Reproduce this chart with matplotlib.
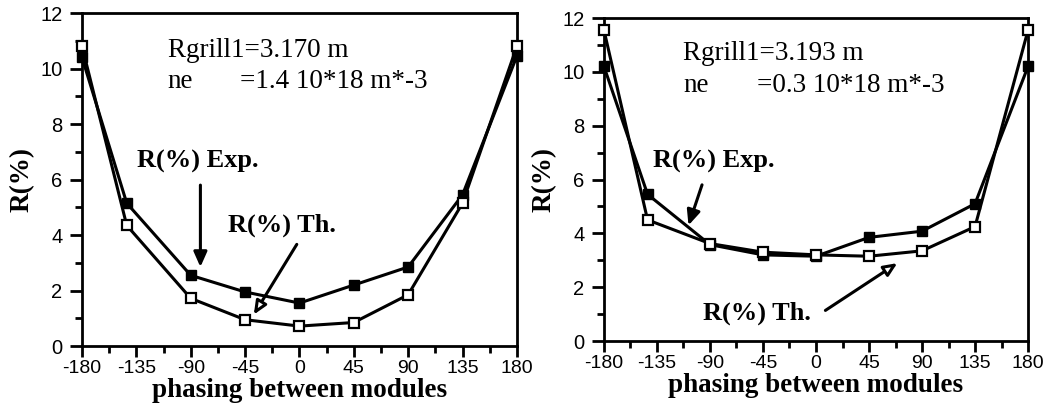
import numpy as np
import matplotlib
matplotlib.use('Agg')
from matplotlib import pyplot as plt
from matplotlib.ticker import MultipleLocator

# phasing between modules (deg); the second point sits slightly left of -135 in the scan
phasing = [-180, -143, -90, -45, 0, 45, 90, 135, 180]

# left panel: Rgrill1 = 3.170 m, ne = 1.4e18
exp_left = [10.4, 5.15, 2.55, 1.95, 1.55, 2.2, 2.85, 5.45, 10.45]
th_left = [10.8, 4.35, 1.72, 0.95, 0.72, 0.85, 1.85, 5.15, 10.8]

# right panel: Rgrill1 = 3.193 m, ne = 0.3e18
exp_right = [10.2, 5.45, 3.58, 3.2, 3.15, 3.85, 4.08, 5.1, 10.2]
th_right = [11.55, 4.5, 3.62, 3.3, 3.2, 3.15, 3.35, 4.25, 11.55]

xticks = [-180, -135, -90, -45, 0, 45, 90, 135, 180]
xtick_labels = ['-180', '-135', '-90', '-45', '0', '45', '90', '135', '180']
yticks = [0, 2, 4, 6, 8, 10, 12]

serif = 'Liberation Serif'
sans = 'Liberation Sans'


def setup_axes(ax):
    ax.set_xlim(-180, 180)
    ax.set_ylim(0, 12)
    ax.set_xticks(xticks)
    ax.set_xticklabels(xtick_labels, family=sans, fontsize=14)
    ax.set_yticks(yticks)
    ax.set_yticklabels([str(v) for v in yticks], family=sans, fontsize=14.5)
    ax.xaxis.set_minor_locator(MultipleLocator(22.5))
    ax.yaxis.set_minor_locator(MultipleLocator(1))
    ax.tick_params(which='major', direction='out', length=8, width=2, pad=2)
    ax.tick_params(axis='y', which='major', length=9, pad=5)
    ax.tick_params(which='minor', direction='out', length=5, width=2)
    for sp in ax.spines.values():
        sp.set_linewidth(2)
    ax.set_xlabel('phasing between modules', family=serif, fontweight='bold',
                  fontsize=19.5, labelpad=0.5)
    ax.set_ylabel('R(%)', family=serif, fontweight='bold', fontsize=19.5, labelpad=4)


def draw_curves(ax, exp_vals, th_vals):
    ax.plot(phasing, exp_vals, color='black', lw=2.2, marker='s', ms=6.5,
            mfc='black', mec='black', clip_on=False, zorder=3)
    ax.plot(phasing, th_vals, color='black', lw=2.2, marker='s', ms=6.5,
            mfc='white', mec='black', mew=1.6, clip_on=False, zorder=4)


fig = plt.figure(figsize=(10.57, 4.13), dpi=100)
ax_l = fig.add_axes([0.0776, 0.162, 0.4114, 0.8065])
ax_r = fig.add_axes([0.5714, 0.1743, 0.4012, 0.7821])

for ax in (ax_l, ax_r):
    setup_axes(ax)

draw_curves(ax_l, exp_left, th_left)
draw_curves(ax_r, exp_right, th_right)

# left panel annotations
ax_l.text(-109, 10.42, 'Rgrill1=3.170 m', family=serif, fontsize=19.5, va='baseline')
ax_l.text(-109, 9.31, 'ne', family=serif, fontsize=19.5, va='baseline')
ax_l.text(-49, 9.31, '=1.4 10*18 m*-3', family=serif, fontsize=19.5, va='baseline')
ax_l.text(-134.5, 6.43, 'R(%) Exp.', family=serif, fontweight='bold', fontsize=19,
          va='baseline')
ax_l.text(-59, 4.13, 'R(%) Th.', family=serif, fontweight='bold', fontsize=19,
          va='baseline')
ax_l.annotate('', xy=(-82, 2.75), xytext=(-82, 5.9),
              arrowprops=dict(arrowstyle='-|>,head_length=0.9,head_width=0.4',
                              color='black', lw=2.2))
ax_l.annotate('', xy=(-39, 1.05), xytext=(-1, 3.75),
              arrowprops=dict(arrowstyle='-|>,head_length=0.8,head_width=0.35',
                              fc='white', ec='black', lw=2.2))

# right panel annotations
ax_r.text(-113, 10.45, 'Rgrill1=3.193 m', family=serif, fontsize=19.5, va='baseline')
ax_r.text(-113, 9.26, 'ne', family=serif, fontsize=19.5, va='baseline')
ax_r.text(-50, 9.26, '=0.3 10*18 m*-3', family=serif, fontsize=19.5, va='baseline')
ax_r.text(-138.5, 6.45, 'R(%) Exp.', family=serif, fontweight='bold', fontsize=19,
          va='baseline')
ax_r.text(-96, 0.78, 'R(%) Th.', family=serif, fontweight='bold', fontsize=19,
          va='baseline')
ax_r.annotate('', xy=(-109, 4.2), xytext=(-96, 5.9),
              arrowprops=dict(arrowstyle='-|>,head_length=0.9,head_width=0.4',
                              color='black', lw=2.2))
ax_r.annotate('', xy=(71, 2.95), xytext=(6, 1.08),
              arrowprops=dict(arrowstyle='-|>,head_length=0.8,head_width=0.35',
                              fc='white', ec='black', lw=2.2))

fig.savefig('out.png', dpi=100)
